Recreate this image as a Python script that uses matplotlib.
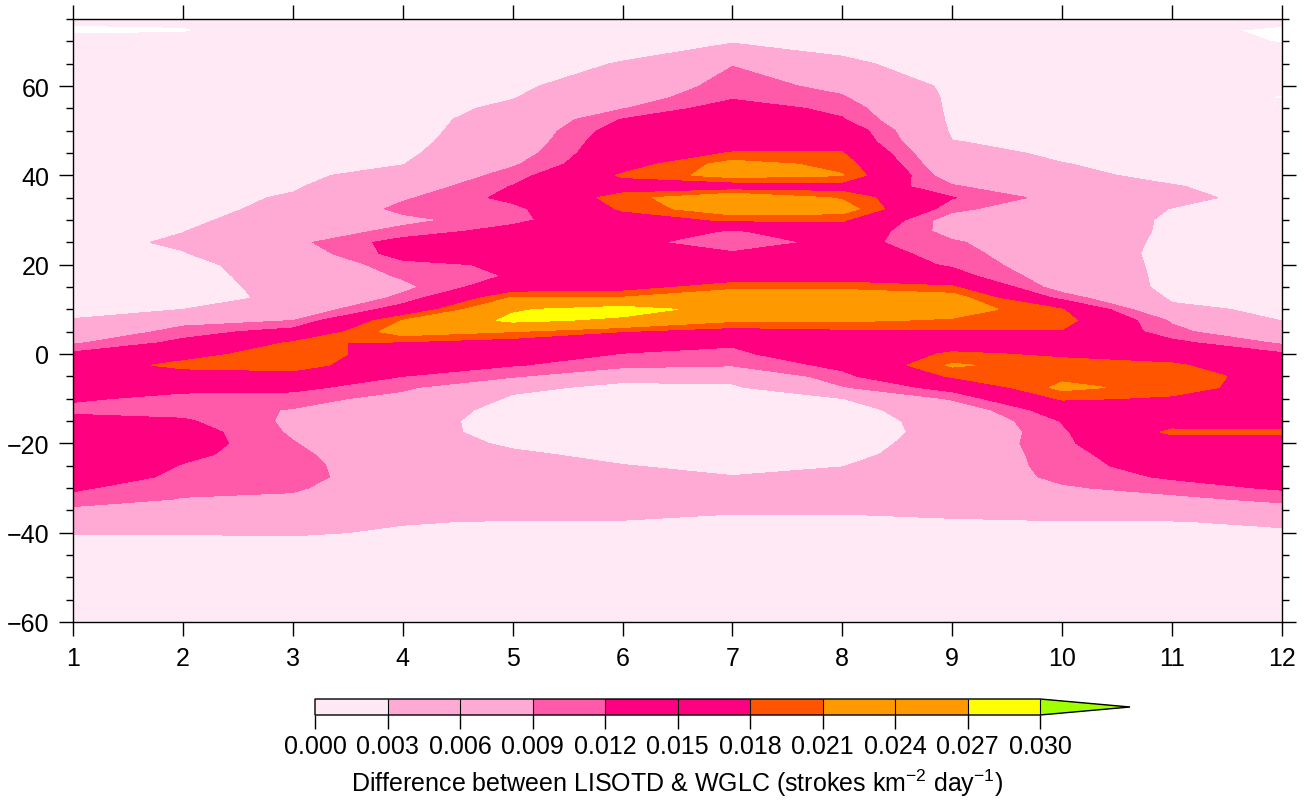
import numpy as np
import matplotlib.pyplot as plt
from matplotlib.ticker import MultipleLocator

plt.rcParams['font.family'] = ['Liberation Sans', 'DejaVu Sans']
plt.rcParams['mathtext.fontset'] = 'custom'
plt.rcParams['mathtext.rm'] = 'Liberation Sans'

months = np.arange(1, 13)
lats = [-60, -50, -42.5, -40, -37.5, -35, -32.5, -30, -27.5, -25,
        -22.5, -20, -17.5, -15, -12.5, -10, -7.5, -5, -2.5, 0,
        2.5, 5, 7.5, 10, 12.5, 15, 17.5, 20, 22.5, 25,
        27.5, 30, 32.5, 35, 37.5, 40, 42.5, 45, 47.5, 50,
        52.5, 55, 57.5, 60, 65, 70, 72.5, 75]

# monthly zonal profiles, units of 1e-3 strokes km-2 day-1 (south -> north)
m01 = [0.8, 1.2, 2.2, 3.2, 5.5, 8.0, 11, 12.5, 15, 15.5,
       16, 16, 15.5, 13.5, 11, 12.5, 15, 16, 15.5, 12.8,
       8.5, 5, 3.1, 2.5, 2.2, 2.0, 1.8, 1.7, 1.7, 1.6,
       1.6, 1.5, 1.5, 1.5, 1.5, 1.5, 1.5, 1.4, 1.4, 1.4,
       1.3, 1.3, 1.2, 1.2, 1.0, 0.6, -0.3, 0.4]
m02 = [0.8, 1.3, 2.5, 3.1, 5.5, 7.5, 8.8, 10, 11, 11.8,
       12.8, 14, 14, 12.5, 10.5, 11, 13, 16, 19, 16.5,
       13, 10.5, 7.5, 3.0, 2.0, 1.8, 1.8, 2.0, 2.8, 3.6,
       2.9, 2.2, 1.8, 1.7, 1.6, 1.5, 1.5, 1.4, 1.4, 1.4,
       1.3, 1.3, 1.2, 1.2, 1.0, 0.4, -0.1, 0.3]
m03 = [0.8, 1.3, 2.5, 3.2, 5.5, 7.0, 8.3, 9.5, 10.5, 10.5,
       10, 9.2, 8.5, 8.3, 8.8, 10.5, 13, 16.5, 19.5, 20,
       18.5, 13.5, 9.0, 5.5, 3.6, 4.0, 4.5, 5.0, 6.5, 8.0,
       6.5, 5.0, 4.0, 3.4, 2.6, 2.2, 2.0, 1.8, 1.6, 1.5,
       1.5, 1.4, 1.4, 1.3, 1.2, 1.0, 0.8, 0.8]
m04 = [0.8, 1.5, 2.5, 2.8, 3.1, 4.5, 5.5, 6.0, 6.0, 5.5,
       5.0, 4.8, 4.8, 5.0, 5.8, 7.5, 9.8, 12, 15, 16,
       17.5, 23, 21.2, 14, 10, 8.0, 9.5, 11.0, 13.5, 13.5,
       10, 8.0, 10, 8.5, 6.5, 4.5, 2.9, 2.2, 1.8, 1.5,
       1.5, 1.4, 1.4, 1.3, 1.2, 1.2, 1.0, 1.0]
m05 = [0.8, 1.3, 2.2, 2.5, 2.9, 4.0, 5.0, 5.5, 5.0, 4.5,
       3.5, 2.5, 1.5, 1.2, 1.5, 2.5, 3.8, 9.5, 12.2, 15,
       16, 21, 28, 26.5, 21.5, 15, 12.3, 12.6, 13.5, 14,
       13.5, 11, 11, 13, 12.2, 10.5, 8.5, 7, 6, 5.5,
       4.8, 3.8, 2.8, 2.2, 1.5, 1.2, 1.0, 1.0]
m06 = [0.8, 1.2, 2.0, 2.4, 2.9, 3.8, 4.5, 4.8, 4.0, 3.1,
       2.2, 1.5, 1.0, 0.8, 0.9, 1.3, 2.2, 4.0, 10.5, 11.8,
       14.5, 18, 26, 29, 21.5, 16, 14.5, 15, 15, 13.5,
       15.5, 16, 18.5, 19.5, 16, 18.5, 16, 15.5, 15, 14,
       12.2, 8.8, 7, 5.5, 3.2, 1.5, 1.2, 1.0]
m07 = [0.8, 1.2, 2.0, 2.3, 2.6, 3.2, 4.0, 4.0, 3.1, 2.2,
       1.5, 1.0, 0.8, 0.7, 0.8, 1.2, 2.3, 4.5, 9.3, 11.2,
       12.5, 16, 21.5, 25, 24.5, 20, 15, 14.5, 12.5, 9.5,
       11.5, 18.5, 24, 25, 15, 22.5, 22.5, 18.2, 16, 16.5,
       17.5, 14, 11.5, 10.5, 8.8, 2.5, 1.5, 1.2]
m08 = [0.8, 1.2, 2.0, 2.3, 2.6, 3.2, 4.0, 4.2, 3.8, 2.9,
       2.0, 1.2, 0.9, 0.9, 1.3, 2.9, 8.7, 11, 13, 15,
       15.5, 17, 21.5, 25, 24.5, 20, 15.5, 15, 14.5, 13.5,
       15.5, 18.5, 23, 20.5, 16, 21.2, 20, 18.2, 16, 15,
       12.3, 11, 9.3, 8, 3.5, 2.0, 1.5, 1.3]
m09 = [0.8, 1.3, 2.1, 2.5, 2.8, 3.5, 4.5, 5.0, 5.5, 5.5,
       5.0, 5.0, 4.5, 4.8, 6.0, 9.5, 13.5, 18.5, 21.5, 18.5,
       16, 17.5, 20.5, 23, 23, 18.5, 13.5, 11.5, 10.5, 9.5,
       7.5, 7.0, 10, 12.2, 9.5, 6.5, 5, 4, 3.1, 2.5,
       2.3, 2.2, 2.2, 2.0, 1.8, 1.5, 1.3, 1.2]
m10 = [0.8, 1.3, 2.2, 2.5, 2.9, 4.5, 6.5, 8.5, 10.0, 10.5,
       11, 11.5, 11.5, 12.2, 14.5, 18.5, 22, 20, 19, 17.5,
       15, 17.7, 19.5, 18.2, 11, 7, 6.5, 6, 5.5, 5.5,
       5.2, 5.0, 5.5, 7.5, 4.8, 3.8, 3.1, 2.5, 2.2, 2.0,
       1.9, 1.8, 1.8, 1.7, 1.6, 1.5, 1.3, 1.2]
m11 = [0.8, 1.3, 2.2, 2.5, 2.9, 5.0, 8.0, 10.5, 12.5, 14,
       14.5, 15.5, 18.8, 16, 15, 17.5, 19.5, 20, 18.5, 16,
       13, 10, 8.5, 3.8, 2.5, 2.0, 2.0, 2.0, 2.0, 2.2,
       2.5, 2.6, 2.9, 4.0, 3.2, 2.2, 2.0, 1.8, 1.7, 1.6,
       1.6, 1.5, 1.5, 1.4, 1.2, 0.8, 0.5, 1.0]
m12 = [0.8, 1.3, 2.2, 2.6, 3.5, 7.0, 10, 12.5, 14, 14.5,
       15, 15.5, 18.5, 16, 15, 15.5, 16, 16, 15, 12.5,
       8.5, 5, 2.9, 2.3, 2.0, 1.9, 1.8, 1.8, 1.8, 1.8,
       1.7, 1.7, 1.7, 1.6, 1.6, 1.6, 1.5, 1.5, 1.5, 1.5,
       1.3, 1.0, -0.2, 0.8, 1.2, -0.1, -0.3, 0.6]

levels = [0.000, 0.003, 0.006, 0.009, 0.012, 0.015,
          0.018, 0.021, 0.024, 0.027, 0.030]
colors = ['#FFE9F4', '#FFAAD5', '#FFAAD5', '#FF5AAA', '#FF0080', '#FF0080',
          '#FF5500', '#FF9900', '#FF9900', '#FFFF00', '#A0FF00']

Z = np.column_stack([m01, m02, m03, m04, m05, m06,
                     m07, m08, m09, m10, m11, m12]) * 1e-3

fig = plt.figure(figsize=(13.1, 8.03), dpi=100)
ax = fig.add_axes([73/1310, 1-623/803, 1209/1310, 603/803])

cs = ax.contourf(months, lats, Z, levels=levels, colors=colors, extend='max')

ax.set_xlim(1, 12)
ax.set_ylim(-60, 75)
ax.set_xticks(months)
ax.set_yticks([-60, -40, -20, 0, 20, 40, 60])
ax.yaxis.set_minor_locator(MultipleLocator(5))
ax.tick_params(which='both', direction='out', top=True, right=True,
               labeltop=False, labelright=False, labelsize=18, width=1)
ax.tick_params(which='major', length=10, pad=7)
ax.tick_params(which='minor', length=5)
for s in ax.spines.values():
    s.set_linewidth(1)

cax = fig.add_axes([315/1310, 1-716/803, 815/1310, 16/803])
cb = fig.colorbar(cs, cax=cax, orientation='horizontal', extendfrac=0.124,
                  drawedges=True, ticks=levels, format='%.3f')
cb.dividers.set_linewidth(0.8)
cb.outline.set_linewidth(1)
cb.ax.tick_params(length=10, width=1, direction='out', labelsize=18, pad=4)
cb.set_label('Difference between LISOTD & WGLC (strokes km$^{-2}$ day$^{-1}$)',
             fontsize=18, labelpad=6)

fig.savefig('out.png', dpi=100)
